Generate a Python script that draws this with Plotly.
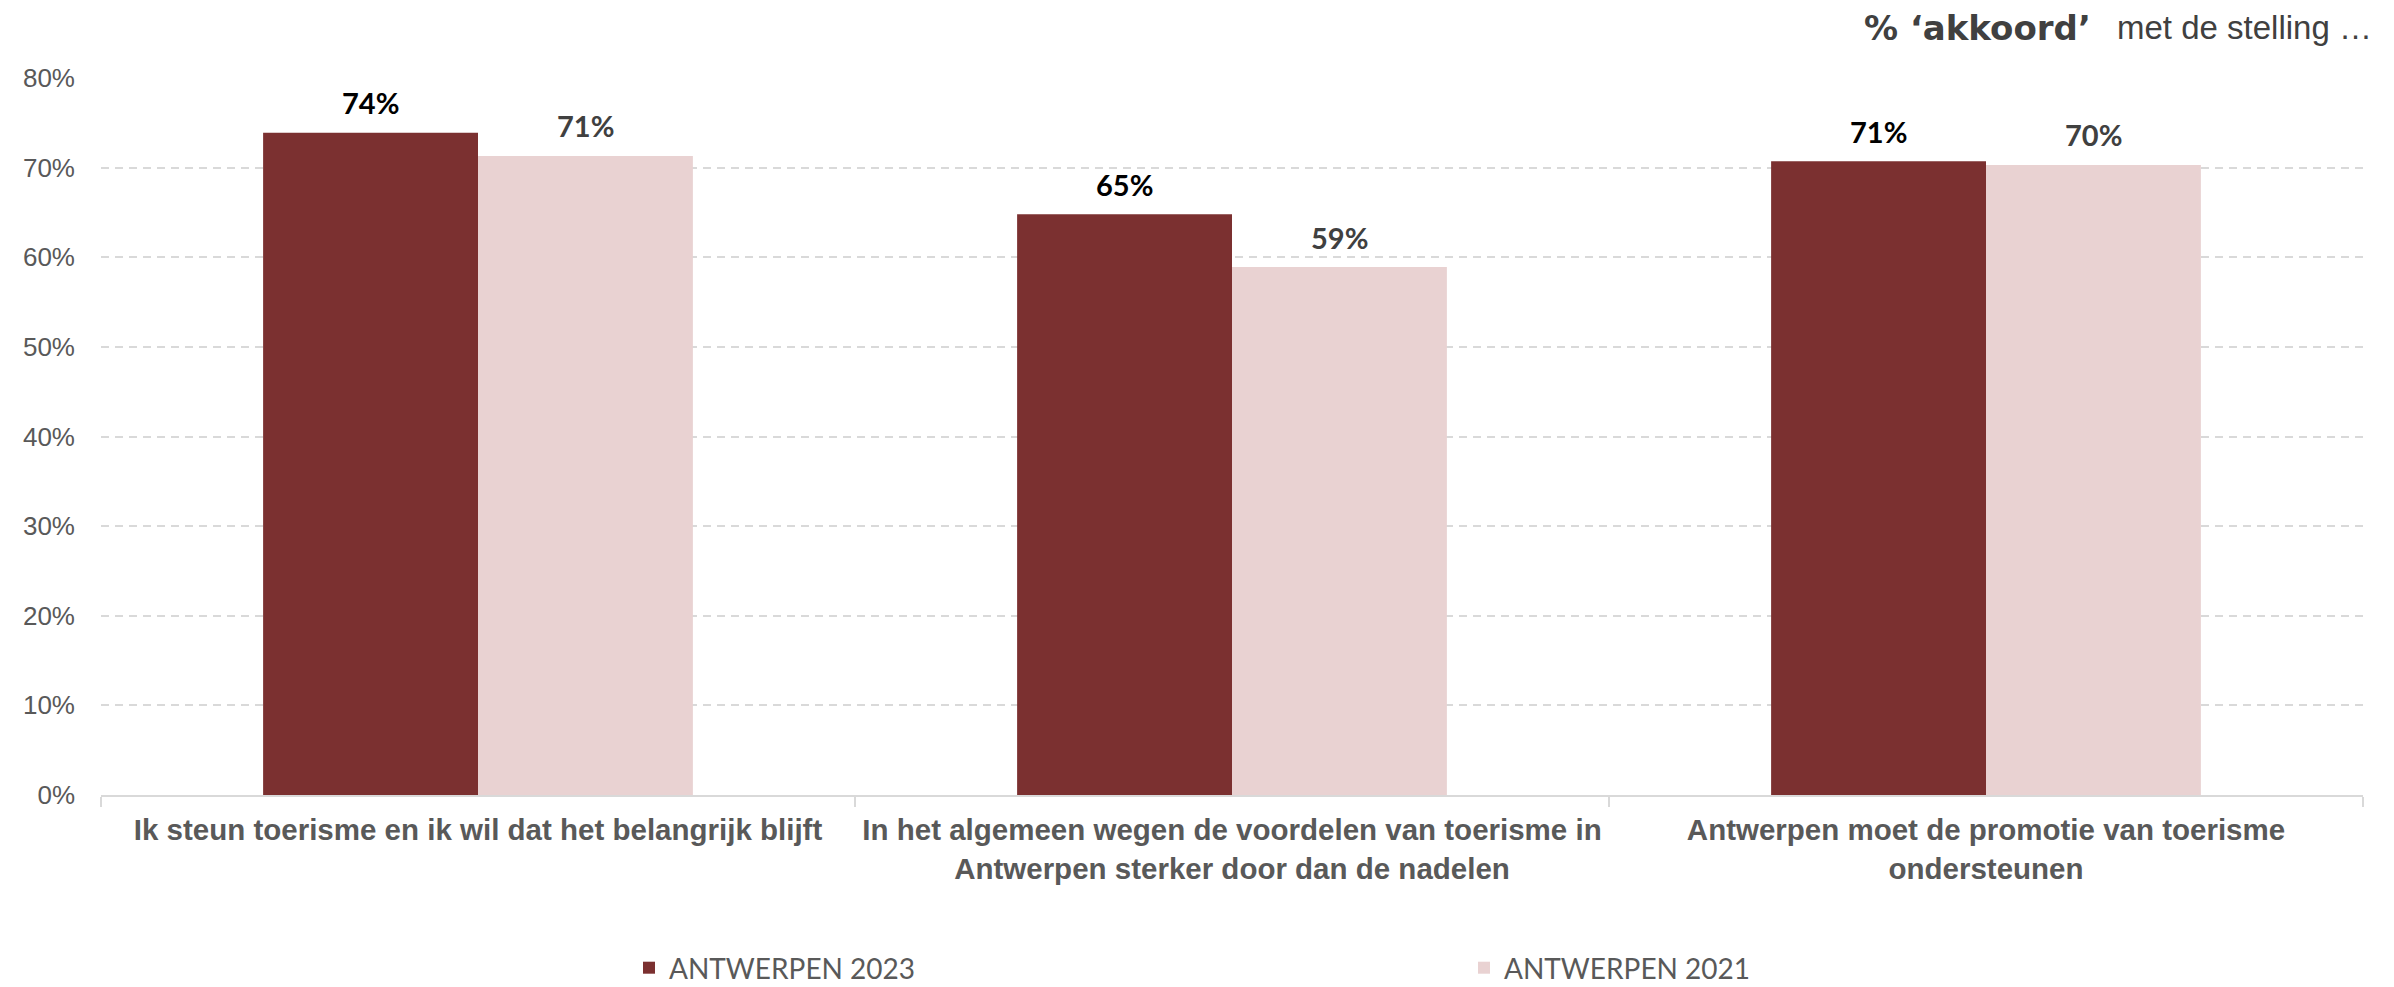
import plotly.graph_objects as go

categories = [
    "Ik steun toerisme en ik wil dat het belangrijk blijft",
    "In het algemeen wegen de voordelen van toerisme in<br>Antwerpen sterker door dan de nadelen",
    "Antwerpen moet de promotie van toerisme<br>ondersteunen",
]
series_names = ["ANTWERPEN 2023", "ANTWERPEN 2021"]
values_2023 = [73.9, 64.8, 70.7]
values_2021 = [71.3, 58.9, 70.3]
labels_2023 = ["74%", "65%", "71%"]
labels_2021 = ["71%", "59%", "70%"]
title_bold = "% ‘akkoord’"
title_rest = "met de stelling …"

colors = ["#7b3030", "#e9d2d2"]
label_colors = ["#000000", "#404040"]

BARGAP = 0.43
# the page body adds an 8px offset; figure is sized to fit the remaining window
W, H = 2386, 979
PLOT_L, PLOT_T, PLOT_W, PLOT_H = 93, 70, 2262, 717
TITLE_Y = 1 + (PLOT_T - 20) / PLOT_H

fig = go.Figure()
for name, vals, col in zip(series_names, [values_2023, values_2021], colors):
    fig.add_trace(go.Bar(
        x=categories, y=vals, name=name,
        marker=dict(color=col, line=dict(width=0)),
        hoverinfo="skip",
    ))

half = (1 - BARGAP) / 4
annotations = []
for k, (vals, labs, lc) in enumerate(zip([values_2023, values_2021], [labels_2023, labels_2021], label_colors)):
    off = -half if k == 0 else half
    for i, (v, t) in enumerate(zip(vals, labs)):
        annotations.append(dict(
            x=i + off, y=v, xref="x", yref="y", text=f"<b>{t}</b>",
            showarrow=False, yanchor="middle", yshift=30,
            font=dict(family="Lato", size=29, color=lc),
        ))

# title pieces at the top right
annotations.append(dict(
    x=(2108 - PLOT_L) / PLOT_W, y=TITLE_Y, xref="paper", yref="paper",
    xanchor="left", yanchor="middle", showarrow=False, borderpad=0,
    text=title_rest,
    font=dict(family="Liberation Sans", size=33, color="#404040"),
))
annotations.append(dict(
    x=(2084 - PLOT_L) / PLOT_W, y=TITLE_Y, xref="paper", yref="paper",
    xanchor="right", yanchor="middle", showarrow=False, borderpad=0,
    text=f"<b>{title_bold}</b>",
    font=dict(family="DejaVu Sans", size=34, color="#404040"),
))

fig.update_layout(
    width=W, height=H,
    margin=dict(l=PLOT_L, r=W - PLOT_L - PLOT_W, t=PLOT_T, b=H - PLOT_T - PLOT_H),
    plot_bgcolor="white", paper_bgcolor="white",
    barmode="group", bargap=BARGAP, bargroupgap=0,
    annotations=annotations,
    showlegend=True,
    legend=dict(
        orientation="h", x=621 / W, xanchor="left", xref="container",
        y=1 - 960 / H, yref="container", yanchor="middle",
        font=dict(family="Lato", size=28, color="#595959"),
        entrywidth=790, entrywidthmode="pixels",
        traceorder="normal",
    ),
    xaxis=dict(
        type="category", automargin=False,
        showgrid=False,
        showline=True, linecolor="#d9d9d9", linewidth=2,
        ticks="outside", tickson="boundaries", ticklen=10, tickcolor="#d9d9d9", tickwidth=2,
        tickfont=dict(family="Liberation Sans, Arial", size=29.5, color="#595959"),
        tickprefix="<b>", ticksuffix="</b>",
        ticklabelstandoff=8,
    ),
    yaxis=dict(
        range=[0, 80], dtick=10, ticksuffix="%", automargin=False,
        showgrid=True, gridcolor="#d9d9d9", gridwidth=2, griddash="8px,6px",
        zeroline=False, showline=False,
        tickfont=dict(family="Liberation Sans, Arial", size=26, color="#595959"),
        ticklabelstandoff=25,
    ),
)

fig.write_html("out.html")
